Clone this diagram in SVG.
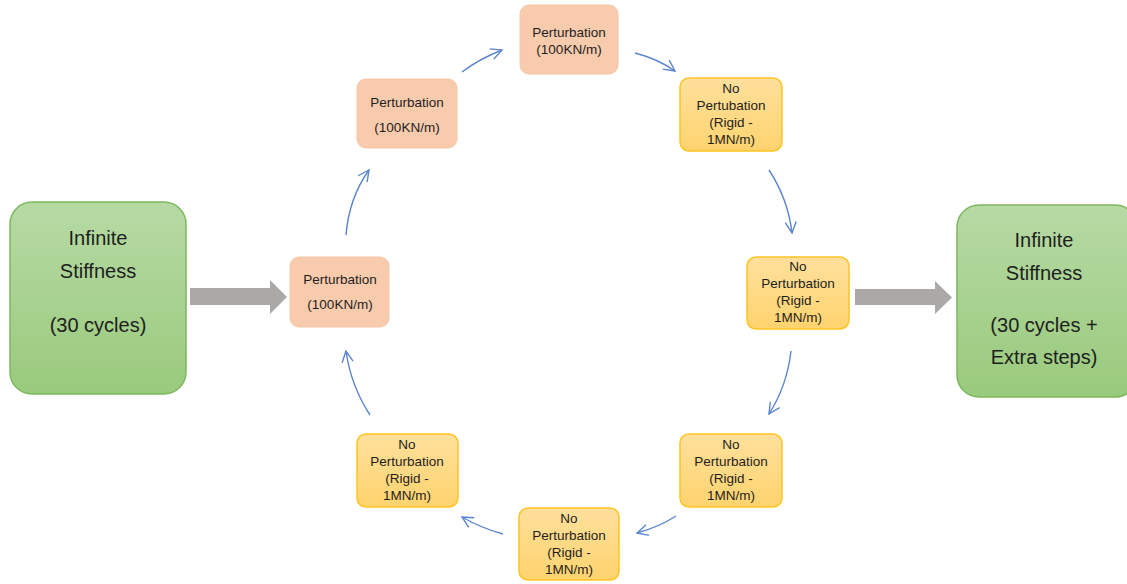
<svg xmlns="http://www.w3.org/2000/svg" width="1127" height="584" viewBox="0 0 1127 584">
<defs>
<linearGradient id="gGreen" x1="0" y1="0" x2="0" y2="1"><stop offset="0" stop-color="#B7DAA5"/><stop offset="1" stop-color="#99CA7C"/></linearGradient>
<linearGradient id="gYellow" x1="0" y1="0" x2="0" y2="1"><stop offset="0" stop-color="#FFE09C"/><stop offset="1" stop-color="#FFD36E"/></linearGradient>
<marker id="arr" markerWidth="14" markerHeight="14" refX="12" refY="7" orient="auto" markerUnits="userSpaceOnUse"><path d="M1,1.5 L12,7 L1,12.5" fill="none" stroke="#5B85CF" stroke-width="1.4"/></marker>
<style>
.green{fill:url(#gGreen);stroke:#7DB85E;stroke-width:1.5}
.peach{fill:#F8CBAD;stroke:#F6C6A6;stroke-width:1}
.yellow{fill:url(#gYellow);stroke:#FFC423;stroke-width:1.5}
.big{font-family:"Liberation Sans",Arial,sans-serif;font-size:20px;fill:#1E1E1E;text-anchor:middle}
.sm{font-family:"Liberation Sans",Arial,sans-serif;font-size:13.5px;fill:#1E1E1E;text-anchor:middle}
.conn{fill:none;stroke:#5B85CF;stroke-width:1.4;marker-end:url(#arr)}
.block{fill:#ABA8A8}
</style>
</defs>
<rect width="1127" height="584" fill="#FFFFFF"/>
<g id="start">
<rect class="green" x="10" y="202" width="176" height="192" rx="22"/>
<text class="big" x="98" y="245">Infinite</text>
<text class="big" x="98" y="278">Stiffness</text>
<text class="big" x="98" y="332">(30 cycles)</text>
</g>
<g id="end">
<rect class="green" x="957" y="205" width="180" height="192" rx="22"/>
<text class="big" x="1044" y="247">Infinite</text>
<text class="big" x="1044" y="280">Stiffness</text>
<text class="big" x="1044" y="332">(30 cycles +</text>
<text class="big" x="1044" y="364">Extra steps)</text>
</g>
<g id="p1">
<rect class="peach" x="290" y="257" width="99" height="70" rx="9"/>
<text class="sm" x="340" y="284">Perturbation</text>
<text class="sm" x="340" y="309">(100KN/m)</text>
</g>
<g id="p2">
<rect class="peach" x="357" y="79" width="100" height="69" rx="9"/>
<text class="sm" x="407" y="107">Perturbation</text>
<text class="sm" x="407" y="132">(100KN/m)</text>
</g>
<g id="p3">
<rect class="peach" x="520" y="5" width="98" height="69" rx="9"/>
<text class="sm" x="569" y="37">Perturbation</text>
<text class="sm" x="569" y="54">(100KN/m)</text>
</g>
<g id="n1">
<rect class="yellow" x="680" y="78" width="102" height="73" rx="9"/>
<text class="sm" x="731" y="93">No</text>
<text class="sm" x="731" y="110">Pertubation</text>
<text class="sm" x="731" y="127">(Rigid -</text>
<text class="sm" x="731" y="144">1MN/m)</text>
</g>
<g id="n2">
<rect class="yellow" x="747" y="257" width="102" height="72" rx="9"/>
<text class="sm" x="798" y="271">No</text>
<text class="sm" x="798" y="288">Perturbation</text>
<text class="sm" x="798" y="305">(Rigid -</text>
<text class="sm" x="798" y="322">1MN/m)</text>
</g>
<g id="n3">
<rect class="yellow" x="680" y="434" width="102" height="73" rx="9"/>
<text class="sm" x="731" y="449">No</text>
<text class="sm" x="731" y="466">Perturbation</text>
<text class="sm" x="731" y="483">(Rigid -</text>
<text class="sm" x="731" y="500">1MN/m)</text>
</g>
<g id="n4">
<rect class="yellow" x="519" y="508" width="100" height="72" rx="9"/>
<text class="sm" x="569" y="523">No</text>
<text class="sm" x="569" y="540">Perturbation</text>
<text class="sm" x="569" y="557">(Rigid -</text>
<text class="sm" x="569" y="574">1MN/m)</text>
</g>
<g id="n5">
<rect class="yellow" x="357" y="434" width="101" height="73" rx="9"/>
<text class="sm" x="407" y="449">No</text>
<text class="sm" x="407" y="466">Perturbation</text>
<text class="sm" x="407" y="483">(Rigid -</text>
<text class="sm" x="407" y="500">1MN/m)</text>
</g>
<g id="connectors">
<path class="block" d="M190,288 L270,288 L270,280 L287,297 L270,314 L270,305 L190,305 Z"/>
<path class="block" d="M855,289 L935,289 L935,281 L952,297.5 L935,314 L935,305 L855,305 Z"/>
<path class="conn" d="M346,235 Q349,198 369,170"/>
<path class="conn" d="M462,72 Q479,59 502,50"/>
<path class="conn" d="M635,53 Q658,59 675,71"/>
<path class="conn" d="M769,170 Q788,199 792,233"/>
<path class="conn" d="M791,351 Q787,386 769,414"/>
<path class="conn" d="M676,516 Q659,527 637,533"/>
<path class="conn" d="M503,534 Q481,528 462,517"/>
<path class="conn" d="M370,415 Q351,386 346,351"/>
</g>
</svg>
